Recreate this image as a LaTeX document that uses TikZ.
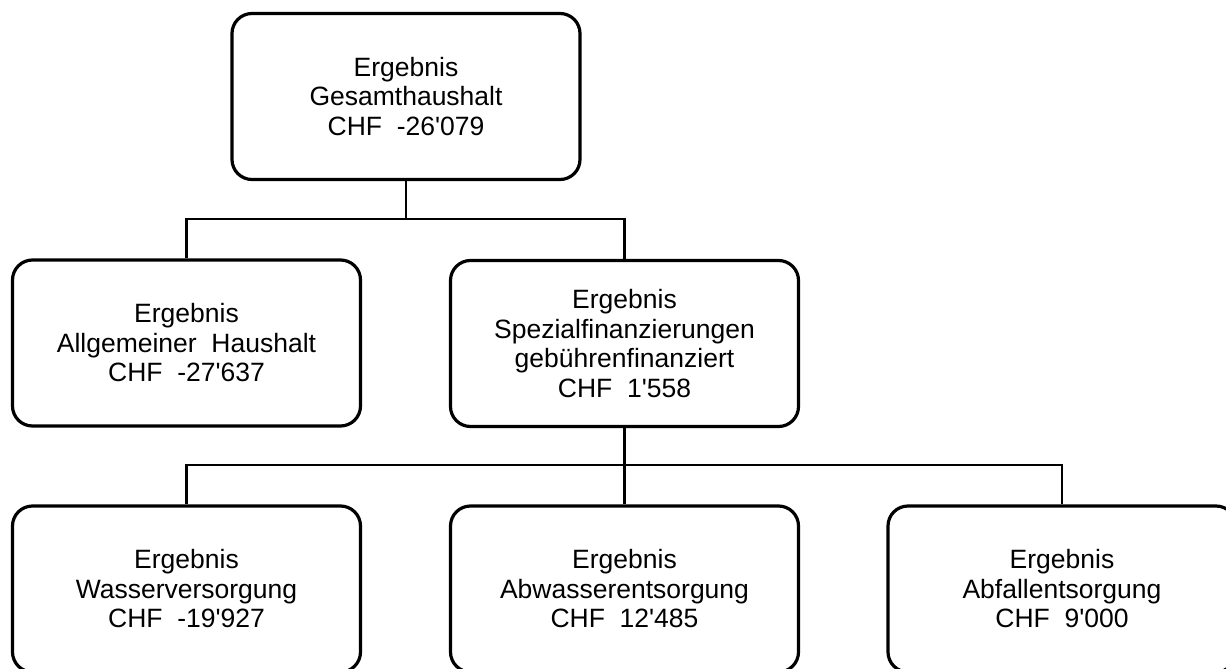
\documentclass[tikz,border=0pt]{standalone}
\usepackage{fontspec}
\newfontfamily\arl{Liberation Sans}
\begin{document}
\begin{tikzpicture}[x=1pt,y=-1pt,
  box/.style={draw=black,line width=3.2pt,rounded corners=20pt,fill=white,
    minimum width=348pt,minimum height=166pt,align=center,inner sep=0pt,
    font=\arl\fontsize{26.5}{29.5}\selectfont},
  conn/.style={draw=black,line width=2.5pt}]
\useasboundingbox (0,0) rectangle (1226,669);
\node[box] (top) at (406,96.5) {Ergebnis\\Gesamthaushalt\\CHF~~-26'079};
\node[box] (allg) at (186.5,343) {Ergebnis\\Allgemeiner~~Haushalt\\CHF~~-27'637};
\node[box] (spez) at (624.5,343.5) {Ergebnis\\Spezialfinanzierungen\\gebührenfinanziert\\CHF~~1'558};
\node[box] (wass) at (186.5,589) {Ergebnis\\Wasserversorgung\\CHF~~-19'927};
\node[box] (abw) at (624.5,589) {Ergebnis\\Abwasserentsorgung\\CHF~~12'485};
\node[box] (abf) at (1062,589) {Ergebnis\\Abfallentsorgung\\CHF~~9'000};
\coordinate (bus1) at (406,219);
\coordinate (bus2) at (624.5,465);
\draw[conn] (top.south) -- (bus1);
\draw[conn] (allg.north) |- (bus1) -| (spez.north);
\draw[conn] (spez.south) -- (abw.north);
\draw[conn] (wass.north) |- (bus2) -| (abf.north);
\end{tikzpicture}
\end{document}
